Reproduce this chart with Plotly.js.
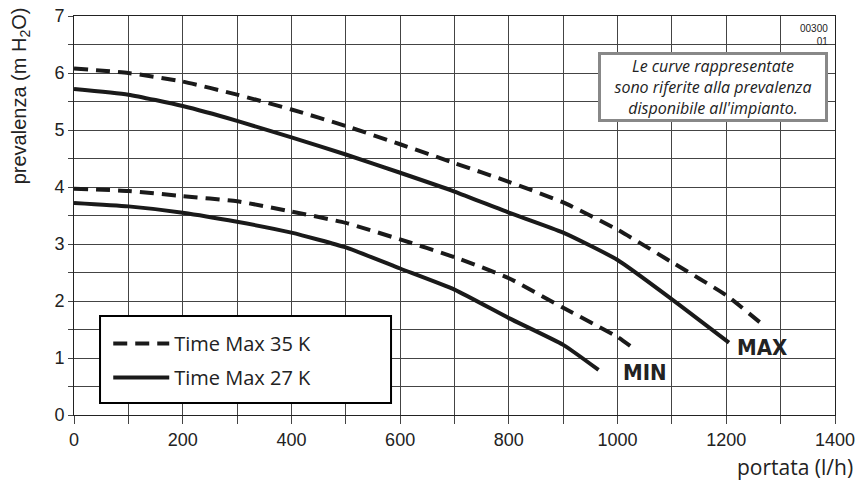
<!DOCTYPE html>
<html>
<head>
<meta charset="utf-8">
<script src="https://cdn.plot.ly/plotly-3.0.1.min.js"></script>
<style>html,body{margin:0;padding:0;background:#fff;}#chart{width:858px;height:480px;}</style>
</head>
<body>
<div id="chart"></div>
<script>
// Flow (l/h) and head (m H2O) readings
const flowMax35 = [0, 100, 200, 300, 400, 500, 600, 700, 800, 900, 1000, 1100, 1200, 1265];
const headMax35 = [6.08, 6.00, 5.85, 5.62, 5.36, 5.07, 4.75, 4.42, 4.09, 3.73, 3.25, 2.68, 2.10, 1.60];
const flowMax27 = [0, 100, 200, 300, 400, 500, 600, 700, 800, 900, 1000, 1100, 1205];
const headMax27 = [5.72, 5.62, 5.42, 5.16, 4.87, 4.57, 4.25, 3.92, 3.55, 3.20, 2.72, 2.03, 1.27];
const flowMin35 = [0, 100, 200, 300, 400, 500, 600, 700, 800, 900, 1000, 1025];
const headMin35 = [3.97, 3.93, 3.84, 3.75, 3.57, 3.37, 3.08, 2.77, 2.40, 1.88, 1.37, 1.20];
const flowMin27 = [0, 100, 200, 300, 400, 500, 600, 700, 800, 900, 965];
const headMin27 = [3.72, 3.66, 3.55, 3.39, 3.20, 2.94, 2.57, 2.20, 1.70, 1.23, 0.79];

const seriesNames = ["Time Max 35 K", "Time Max 27 K"];
const curveLabels = ["MAX", "MIN"];
const xTickVals = [0, 200, 400, 600, 800, 1000, 1200, 1400];
const yTickVals = [0, 1, 2, 3, 4, 5, 6, 7];

const dashStyle = {color: "#1a1a1a", width: 4, dash: "14px,8px", shape: "spline", smoothing: 0.5};
const solidStyle = {color: "#1a1a1a", width: 4, shape: "spline", smoothing: 0.5};

const traces = [
  {x: flowMax35, y: headMax35, mode: "lines", name: seriesNames[0], line: dashStyle, legendgroup: "a", showlegend: true},
  {x: flowMax27, y: headMax27, mode: "lines", name: seriesNames[1], line: solidStyle, legendgroup: "b", showlegend: true},
  {x: flowMin35, y: headMin35, mode: "lines", name: seriesNames[0], line: dashStyle, legendgroup: "a", showlegend: false},
  {x: flowMin27, y: headMin27, mode: "lines", name: seriesNames[1], line: solidStyle, legendgroup: "b", showlegend: false}
];

const tickFont = {family: "Liberation Sans", size: 18, color: "#222"};
const labelFont = {family: "DejaVu Sans Condensed", size: 22, color: "#222", weight: "bold"};
const layout = {
  width: 858, height: 480,
  margin: {l: 74, r: 23, t: 16, b: 65, pad: 0},
  paper_bgcolor: "#fff", plot_bgcolor: "#fff",
  showlegend: true,
  xaxis: {
    range: [0, 1400], tickvals: xTickVals, ticktext: xTickVals.map(String),
    showgrid: true, gridcolor: "#444", gridwidth: 1,
    ticks: "outside", ticklen: 8, tickcolor: "#444", tickwidth: 1,
    minor: {dtick: 100, showgrid: true, gridcolor: "#444", gridwidth: 1, ticks: "outside", ticklen: 8, tickcolor: "#444"},
    showline: true, linecolor: "#222", linewidth: 1, mirror: true,
    zeroline: false, tickfont: tickFont, fixedrange: true
  },
  yaxis: {
    range: [0, 7], tickvals: yTickVals, ticktext: yTickVals.map(String),
    showgrid: true, gridcolor: "#444", gridwidth: 1,
    ticks: "outside", ticklen: 5, tickcolor: "#444", tickwidth: 1,
    minor: {dtick: 0.5, showgrid: true, gridcolor: "#444", gridwidth: 1, ticks: "outside", ticklen: 5, tickcolor: "#444"},
    showline: true, linecolor: "#222", linewidth: 1, mirror: true,
    zeroline: false, tickfont: tickFont, fixedrange: true
  },
  legend: {
    x: 0.045, y: 0.228, xanchor: "left", yanchor: "top",
    bgcolor: "rgba(0,0,0,0)", borderwidth: 0,
    font: {family: "Open Sans", size: 20, color: "#222"},
    itemwidth: 56, tracegroupgap: 5
  },
  shapes: [
    {type: "rect", xref: "paper", yref: "paper", x0: 0.0342, x1: 0.4166, y0: 0.030, y1: 0.248,
     line: {color: "#000", width: 2}, fillcolor: "#fff", layer: "above"}
  ],
  annotations: [
    {xref: "paper", yref: "paper", x: -0.071, y: 1.028, xanchor: "center", yanchor: "top",
     text: "prevalenza (m H<sub>2</sub>O)", textangle: -90, showarrow: false,
     font: {family: "Liberation Sans", size: 20, color: "#222"}},
    {xref: "paper", yref: "paper", x: 1.026, y: -0.13, xanchor: "right", yanchor: "middle",
     text: "portata (l/h)", showarrow: false,
     font: {family: "Open Sans", size: 21, color: "#222"}},
    {xref: "paper", yref: "paper", x: 0.8397, y: 0.823, xanchor: "center", yanchor: "middle",
     text: "<i>Le curve rappresentate<br>sono riferite alla prevalenza<br>disponibile all'impianto.</i>",
     showarrow: false, align: "center", width: 222, height: 62,
     bgcolor: "#fff", bordercolor: "#888", borderwidth: 3, borderpad: 1,
     font: {family: "Open Sans", size: 16, color: "#222"}},
    {xref: "paper", yref: "paper", x: 0.9934, y: 0.988, xanchor: "right", yanchor: "top",
     text: "00300<br>01", showarrow: false, align: "right",
     font: {family: "Liberation Sans", size: 10, color: "#222"}},
    {xref: "x", yref: "y", x: 1216, y: 1.19, xanchor: "left", yanchor: "middle",
     text: curveLabels[0], showarrow: false, font: labelFont},
    {xref: "x", yref: "y", x: 1006, y: 0.75, xanchor: "left", yanchor: "middle",
     text: curveLabels[1], showarrow: false, font: labelFont}
  ]
};

Plotly.newPlot("chart", traces, layout, {staticPlot: true, displayModeBar: false});
</script>
</body>
</html>
